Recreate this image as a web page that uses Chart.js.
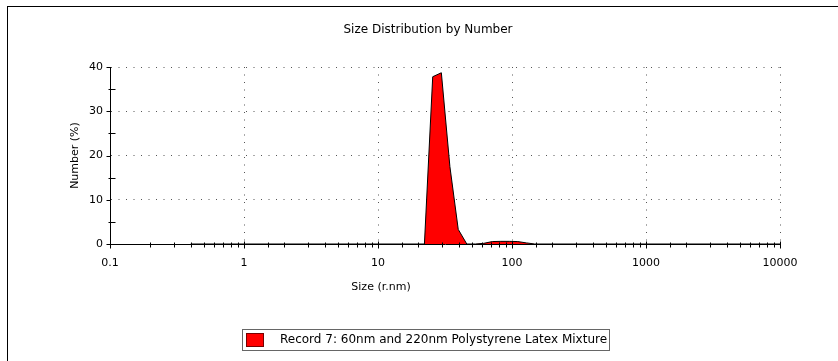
<!DOCTYPE html>
<html>
<head>
<meta charset="utf-8">
<script src="https://cdn.jsdelivr.net/npm/chart.js@4/dist/chart.umd.min.js"></script>
<style>
  body { margin: 0; background: #fff; }
  #wrap { position: relative; width: 838px; height: 361px; overflow: hidden; }
  #frame { position: absolute; left: 7px; top: 6px; width: 900px; height: 400px;
           border-left: 1px solid #000; border-top: 1px solid #000; }
  #chart { position: absolute; left: 0; top: 0; }
  #legend { position: absolute; left: 242px; top: 329px; width: 366px; height: 20px;
            border: 1px solid #666; font: 12px "DejaVu Sans", sans-serif; color: #000; }
  #legend .swatch { position: absolute; left: 3px; top: 3px; width: 16px; height: 12px;
                    background: #ff0000; border: 1px solid #700; }
  #legend .text { position: absolute; left: 37px; top: 2px; white-space: nowrap; }
</style>
</head>
<body>
<div id="wrap">
  <div id="frame"></div>
  <canvas id="chart" width="838" height="361"></canvas>
  <div id="legend"><span class="swatch"></span><span class="text"></span></div>
</div>
<script>
// size classes (r.nm) and number distribution (%)
const sizes = [0.4, 22.2, 25.6, 29.7, 34.4, 39.7, 46.0, 53.2, 61.6, 71.3, 82.5, 95.5, 110.5, 127.9, 148.0, 10000];
const numbers = [0, 0, 37.8, 38.7, 17.5, 3.3, 0, 0, 0.15, 0.55, 0.6, 0.6, 0.55, 0.25, 0, 0];
const sizeTicks = [0.1, 1, 10, 100, 1000, 10000];
const numberTicks = [0, 10, 20, 30, 40];
const seriesName = 'Record 7: 60nm and 220nm Polystyrene Latex Mixture';

const FONT = '"DejaVu Sans", sans-serif';

function decade(v) {
  return sizeTicks.find(t => Math.abs(t - v) < t * 1e-6);
}

// small tick marks crossing both axes, like the instrument software draws them
const axisMarks = {
  id: 'axisMarks',
  afterDraw(chart) {
    const ctx = chart.ctx;
    const xs = chart.scales.x, ys = chart.scales.y;
    const yb = Math.round(ys.getPixelForValue(0)) + 0.5;
    const xl = Math.round(xs.getPixelForValue(sizeTicks[0])) + 0.5;
    ctx.save();
    ctx.strokeStyle = '#000';
    ctx.lineWidth = 1;
    ctx.beginPath();
    xs.ticks.forEach(t => {
      const px = Math.round(xs.getPixelForValue(t.value)) + 0.5;
      const h = decade(t.value) !== undefined ? 3 : 2;
      ctx.moveTo(px, yb - h);
      ctx.lineTo(px, yb + h + 1);
    });
    ys.ticks.forEach(t => {
      const py = Math.round(ys.getPixelForValue(t.value)) + 0.5;
      if (numberTicks.includes(t.value)) {
        ctx.moveTo(xl - 4, py);
        ctx.lineTo(xl, py);
      } else {
        ctx.moveTo(xl - 2, py);
        ctx.lineTo(xl + 5, py);
      }
    });
    ctx.stroke();
    // x axis caption
    ctx.fillStyle = '#000';
    ctx.font = '11px ' + FONT;
    ctx.textAlign = 'center';
    ctx.textBaseline = 'middle';
    ctx.fillText('Size (r.nm)', xs.getPixelForValue(10) + 3, 287);
    ctx.restore();
  }
};

document.querySelector('#legend .text').textContent = seriesName;

const data = {
  datasets: [{
    label: seriesName,
    data: sizes.map((s, i) => ({x: s, y: numbers[i]})),
    backgroundColor: '#ff0000',
    borderColor: '#000',
    borderWidth: 1,
    fill: 'origin',
    pointRadius: 0,
    tension: 0
  }]
};

const config = {
  type: 'line',
  data: data,
  options: {
    responsive: false,
    animation: false,
    layout: {padding: {left: 76, right: 58, top: 0, bottom: 77}},
    plugins: {
      legend: {display: false},
      tooltip: {enabled: false},
      title: {
        display: true,
        text: 'Size Distribution by Number',
        color: '#000',
        font: {family: FONT, size: 12, weight: 'normal'},
        padding: {top: 23, bottom: 29.6}
      }
    },
    scales: {
      x: {
        type: 'logarithmic',
        min: 0.1,
        max: 10000,
        afterFit: s => { s.height = 40; },
        ticks: {
          autoSkip: false,
          maxRotation: 0,
          padding: 13,
          color: '#000',
          font: {family: FONT, size: 11},
          callback: v => {
            const d = decade(v);
            return d === undefined ? '' : String(d);
          }
        },
        grid: {
          drawTicks: false,
          color: c => {
            if (!c.tick) return 'transparent';
            const d = decade(c.tick.value);
            return d !== undefined && d !== sizeTicks[0] ? '#555' : 'transparent';
          }
        },
        border: {display: true, color: '#000', width: 1, dash: [1, 6.5]}
      },
      y: {
        min: 0,
        max: 40,
        afterFit: s => { s.width = 34; },
        ticks: {
          stepSize: 5,
          padding: 7,
          color: '#000',
          font: {family: FONT, size: 11},
          callback: v => numberTicks.includes(v) ? String(v) : ''
        },
        grid: {
          drawTicks: false,
          color: c => (c.tick && c.tick.value % 10 === 0 && c.tick.value !== 0) ? '#555' : 'transparent'
        },
        border: {display: true, color: '#000', width: 1, dash: [1, 6.5]},
        title: {
          display: true,
          text: 'Number (%)',
          color: '#000',
          font: {family: FONT, size: 11},
          padding: {top: -7.6, bottom: 0}
        }
      }
    }
  },
  plugins: [axisMarks]
};

const myChart = new Chart(document.querySelector('#chart'), config);
</script>
</body>
</html>
